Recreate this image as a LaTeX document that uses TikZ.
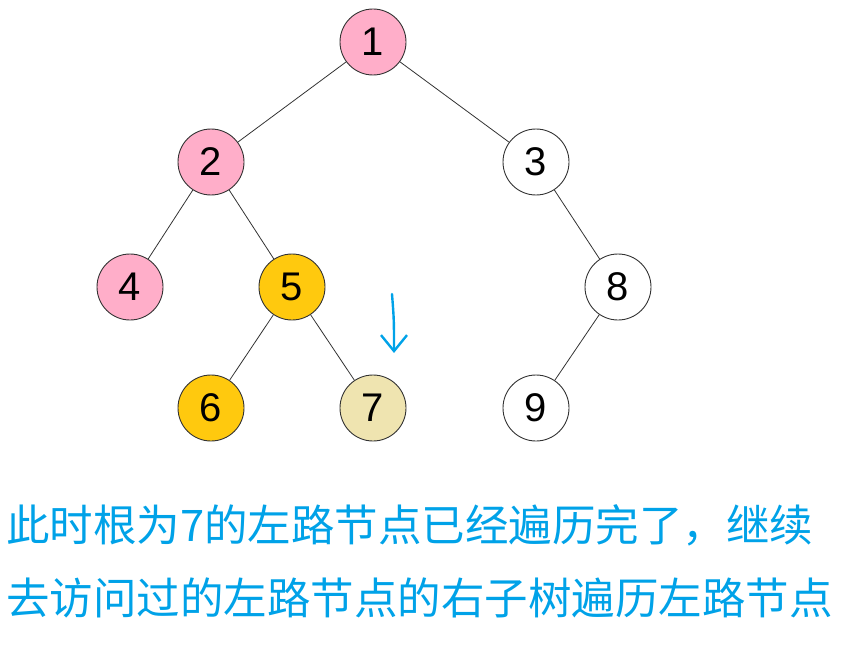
\documentclass[tikz,border=0pt]{standalone}
\usepackage{fontspec}
\setmainfont{Liberation Sans}
\newfontfamily\cjk{Noto Sans CJK SC}
\usetikzlibrary{arrows.meta}
\definecolor{pinkc}{HTML}{FFAEC9}
\definecolor{goldc}{HTML}{FFC90E}
\definecolor{tanc}{HTML}{EFE4B0}
\definecolor{bluec}{HTML}{00A2E8}
\begin{document}
\begin{tikzpicture}[x=1pt,y=-1pt,
  tnode/.style={circle,draw=black!80,line width=0.9pt,minimum size=66pt,inner sep=0pt,font=\fontsize{40}{42}\selectfont},
  edge/.style={draw=black!80,line width=0.8pt}]
\useasboundingbox (0,0) rectangle (854,658);
\node[tnode,fill=pinkc] (n1) at (373,42) {1};
\node[tnode,fill=pinkc] (n2) at (211,162) {2};
\node[tnode,fill=white] (n3) at (536,162) {3};
\node[tnode,fill=pinkc] (n4) at (130,287) {4};
\node[tnode,fill=goldc] (n5) at (292,287) {5};
\node[tnode,fill=white] (n8) at (618,287) {8};
\node[tnode,fill=goldc] (n6) at (211,408) {6};
\node[tnode,fill=tanc] (n7) at (373,408) {7};
\node[tnode,fill=white] (n9) at (536,408) {9};
\draw[edge] (n1) -- (n2);
\draw[edge] (n1) -- (n3);
\draw[edge] (n2) -- (n4);
\draw[edge] (n2) -- (n5);
\draw[edge] (n5) -- (n6);
\draw[edge] (n5) -- (n7);
\draw[edge] (n3) -- (n8);
\draw[edge] (n8) -- (n9);
\coordinate (a1) at (392,294);
\coordinate (a2) at (394,353);
\draw[bluec,line width=2.4pt,line cap=round,-{Straight Barb[length=16pt,width=26pt,line width=2.4pt]}] (a1) .. controls (394,320) .. (a2);
\node[anchor=west,inner sep=0pt,text=bluec,font=\cjk\fontsize{43.5}{45}\selectfont] (t1) at (6,525) {此时根为7的左路节点已经遍历完了，继续};
\node[anchor=west,inner sep=0pt,text=bluec,font=\cjk\fontsize{43.5}{45}\selectfont] (t2) at (6,598) {去访问过的左路节点的右子树遍历左路节点};
\end{tikzpicture}
\end{document}
